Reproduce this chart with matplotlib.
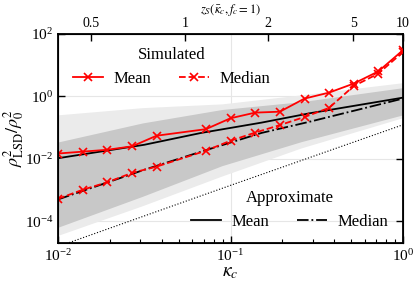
import numpy as np
import matplotlib
matplotlib.use("Agg")
import matplotlib.pyplot as plt
from matplotlib.ticker import NullLocator, FixedLocator, FixedFormatter

plt.rcParams["font.family"] = ["Liberation Serif", "DejaVu Serif"]
plt.rcParams["mathtext.fontset"] = "stix"

# -------------------------------------------------------
# data (log10 values)
# -------------------------------------------------------
sim_logk = [-2.0, -1.857, -1.714, -1.571, -1.429, -1.143, -1.0,
            -0.857, -0.714, -0.571, -0.429, -0.286, -0.143, 0.0]
sim_mean_log = [-1.83, -1.77, -1.71, -1.60, -1.26, -1.05, -0.70,
                -0.52, -0.49, -0.07, 0.12, 0.41, 0.80, 1.48]
sim_median_log = [-3.28, -2.99, -2.75, -2.45, -2.25, -1.74, -1.42,
                  -1.16, -0.92, -0.66, -0.37, 0.33, 0.73, 1.42]

approx_logk = [-2.0, -1.5, -1.17, -0.82, -0.54, 0.0]
approx_mean_log = [-1.98, -1.55, -1.17, -0.84, -0.54, -0.04]
approx_median_log = [-3.30, -2.35, -1.77, -1.17, -0.81, -0.07]

band_logk = [-2.0, -1.51, -1.05, -0.59, 0.0]
outer_hi_log = [-0.59, -0.36, -0.24, 0.05, 0.44]
inner_hi_log = [-1.46, -0.85, -0.42, -0.17, 0.28]
inner_lo_log = [-4.19, -3.20, -2.22, -1.45, -0.59]
outer_lo_log = [-4.45, -3.50, -2.55, -1.65, -0.68]

dotted_logk = [-2.0, -1.5, -1.0, -0.5, 0.0]
dotted_log = [-4.81, -3.83, -2.85, -1.88, -0.91]

top_kappa = [0.0155, 0.0545, 0.165, 0.516, 1.0]
top_labels = ["0.5", "1", "2", "5", "10"]


def p10(v):
    return 10.0 ** np.asarray(v)


fig = plt.figure(figsize=(4.15, 2.83), dpi=100)
ax = fig.add_axes([0.14, 0.141, 0.831, 0.739])

# bands
bk = p10(band_logk)
ax.fill_between(bk, p10(outer_lo_log), p10(outer_hi_log), color="#ebebeb", lw=0, zorder=1)
ax.fill_between(bk, p10(inner_lo_log), p10(inner_hi_log), color="#c8c8c8", lw=0, zorder=1)

ax.plot(p10(dotted_logk), p10(dotted_log), color="k", ls=":", lw=0.8, zorder=2)

# approximate curves
l_am, = ax.plot(p10(approx_logk), p10(approx_mean_log), color="k", ls="-", lw=1.3, zorder=3)
l_amed, = ax.plot(p10(approx_logk), p10(approx_median_log), color="k", ls="-.", lw=1.3, zorder=3)

# simulated curves
l_sm, = ax.plot(p10(sim_logk), p10(sim_mean_log), color="red", ls="-", lw=1.3,
                marker="x", ms=6, mew=1.2, zorder=4)
l_smed, = ax.plot(p10(sim_logk), p10(sim_median_log), color="red", ls="--", lw=1.3,
                  marker="x", ms=6, mew=1.2, zorder=4)

ax.set_xscale("log")
ax.set_yscale("log")
ax.set_xlim(1e-2, 1e0)
ax.set_ylim(10 ** -4.7, 1e2)
ax.yaxis.set_major_locator(FixedLocator([1e-4, 1e-2, 1e0, 1e2]))
ax.yaxis.set_minor_locator(NullLocator())

ax.grid(True, which="major", color="#e6e6e6", lw=0.8, zorder=0)
ax.set_axisbelow(True)

ax.tick_params(which="both", direction="in", right=True, top=False, labelsize=11)
ax.tick_params(which="major", length=5, width=1)
ax.tick_params(which="minor", length=3, width=0.8)
for s in ax.spines.values():
    s.set_linewidth(1.3)

ax.set_xlabel(r"$\kappa_c$", fontsize=14, labelpad=0)
ax.set_ylabel(r"$\rho^2_{\rm LSD}/\rho^2_0$", fontsize=13, labelpad=-1)

# top axis
ax2 = ax.twiny()
ax2.set_xscale("log")
ax2.set_xlim(ax.get_xlim())
ax2.xaxis.set_major_locator(FixedLocator(top_kappa))
ax2.xaxis.set_major_formatter(FixedFormatter(top_labels))
ax2.xaxis.set_minor_locator(NullLocator())
ax2.tick_params(which="major", direction="in", length=5, width=1, labelsize=10, pad=3)
ax2.set_xlabel(r"$z_S(\bar{\kappa}_c, f_c=1)$", fontsize=9, labelpad=3)

leg_kw = dict(ncol=2, frameon=False, fontsize=12, title_fontsize=12,
              handlelength=1.8, columnspacing=1.7, handletextpad=0.6)
leg1 = ax.legend([l_sm, l_smed], ["Mean", "Median"], title="Simulated",
                 loc="upper left", bbox_to_anchor=(0.0, 1.01), **leg_kw)
ax.add_artist(leg1)
ax.legend([l_am, l_amed], ["Mean", "Median"], title="Approximate",
          loc="lower right", bbox_to_anchor=(1.0, -0.01), **leg_kw)

fig.savefig("out.png", dpi=100)
